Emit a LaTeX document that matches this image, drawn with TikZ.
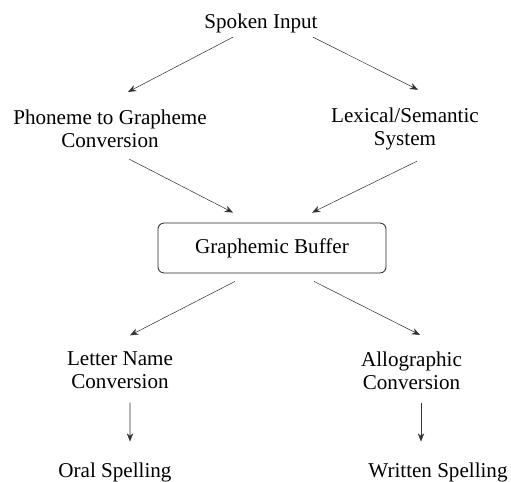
\documentclass[tikz,border=0pt]{standalone}
\usepackage{fontspec}
\setmainfont{Liberation Serif}
\usetikzlibrary{shapes,arrows.meta,positioning}

\begin{document}
\begin{tikzpicture}[
        label/.style={inner sep=0pt, align=center, font=\fontsize{18}{19.6}\selectfont},
        buffer/.style={rectangle, rounded corners=0.18cm, draw=black!85, line width=0.7pt, minimum width=6.84cm, minimum height=1.5cm, font=\fontsize{18}{19.6}\selectfont},
        arrow/.style={draw=black!80, line width=0.45pt, -{Stealth[length=7pt,width=5.5pt,inset=2.2pt]}}
    ]
        \useasboundingbox (0,0) rectangle (15.33,-14.43);
        % Input side
        \node[label] (spoken) at (7.83,-0.69) {Spoken Input};
        \node[label] (phoneme) at (3.30,-3.857) {Phoneme to Grapheme\\Conversion};
        \node[label] (lexical) at (12.15,-3.857) {Lexical/Semantic\\System};
        \node[buffer] (buffer) at (8.16,-7.44) {\raisebox{-0.09cm}{Graphemic Buffer}};
        % Output side
        \node[label] (letter) at (3.60,-11.117) {Letter Name\\Conversion};
        \node[label] (allo) at (12.345,-11.117) {Allographic\\Conversion};
        \node[label] (oral) at (3.45,-14.16) {Oral Spelling};
        \node[label] (written) at (13.14,-14.16) {Written Spelling};

        % Connections
        \draw[arrow] ([xshift=-0.84cm,yshift=-0.13cm]spoken.south) -- ([xshift=0.54cm,yshift=0.525cm]phoneme.north);
        \draw[arrow] ([xshift=1.56cm,yshift=-0.13cm]spoken.south) -- ([xshift=0.39cm,yshift=0.525cm]lexical.north);
        \draw[arrow] ([xshift=0.57cm,yshift=-0.34cm]phoneme.south) -- ([xshift=-1.17cm,yshift=0.3cm]buffer.north);
        \draw[arrow] ([xshift=0.36cm,yshift=-0.34cm]lexical.south) -- ([xshift=1.2cm,yshift=0.3cm]buffer.north);
        \draw[arrow] ([xshift=-1.11cm,yshift=-0.24cm]buffer.south) -- ([xshift=0.3cm,yshift=0.495cm]letter.north);
        \draw[arrow] ([xshift=1.26cm,yshift=-0.24cm]buffer.south) -- ([xshift=0.255cm,yshift=0.495cm]allo.north);
        \draw[arrow] ([xshift=0.3cm,yshift=-0.40cm]letter.south) -- ([xshift=0.45cm,yshift=0.62cm]oral.north);
        \draw[arrow] ([xshift=0.285cm,yshift=-0.40cm]allo.south) -- ([xshift=-0.51cm,yshift=0.62cm]written.north);
    \end{tikzpicture}
\end{document}
